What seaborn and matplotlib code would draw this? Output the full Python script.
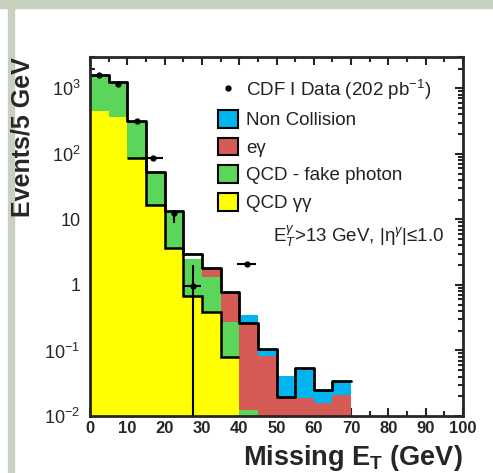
import numpy as np
import pandas as pd
import matplotlib
matplotlib.use('Agg')
import matplotlib.pyplot as plt
import seaborn as sns
from matplotlib.patches import Patch, Rectangle
from matplotlib.lines import Line2D
from matplotlib.ticker import MultipleLocator, LogLocator, NullFormatter

# 5 GeV bins, 0-70 GeV
bin_edges = np.arange(0, 75, 5)
bin_mids = bin_edges[:-1] + 2.5

# stacked backgrounds (events / 5 GeV)
qcd_gg = [458, 363, 86, 16.3, 3.63, 0.68, 0.38, 0.08, 0, 0, 0, 0, 0, 0]
qcd_fake = [1149, 864, 233, 36.2, 9.57, 1.79, 0.96, 0.195, 0.0123, 0, 0, 0, 0, 0]
e_gamma = [0, 0, 0, 0, 0, 0, 0.46, 0.505, 0.248, 0.082, 0.0197, 0.0186, 0.0156, 0.0209]
non_coll = [0, 0, 0, 0, 0, 0, 0, 0, 0.088, 0.023, 0.0211, 0.0349, 0.0093, 0.0137]

# data histogram
data_hist = [1607, 1227, 319, 52.5, 13.2, 2.97, 1.8, 0.79, 0.26, 0.105, 0.0197, 0.0535, 0.0249, 0.0346]

# data points
pts_x = [2.5, 7.5, 12.5, 17, 22.5, 27.5, 42]
pts_y = [1607, 1180, 320, 87, 12.6, 0.97, 2.1]
pts_xerr = [0, 0, 0, 2.7, 0, 2.2, 2.5]
pts_lo = [0, 0, 0, 0, 3.8, 0.965, 0]
pts_hi = [0, 0, 0, 0, 1.5, 1.05, 0]

comp_names = ['Non Collision', 'e\u03b3', 'QCD - fake photon', 'QCD \u03b3\u03b3']
comp_colors = ['#00b4f0', '#d65a55', '#5cd65a', '#ffff00']

sns.set_style('ticks')
plt.rcParams['font.family'] = ['Liberation Sans', 'DejaVu Sans']
plt.rcParams['mathtext.fontset'] = 'custom'
plt.rcParams['mathtext.rm'] = 'Liberation Sans'
plt.rcParams['mathtext.it'] = 'Liberation Sans:italic'
plt.rcParams['mathtext.bf'] = 'Liberation Sans:bold'

df = pd.DataFrame({
    'met': np.tile(bin_mids, 4),
    'w': np.concatenate([non_coll, e_gamma, qcd_fake, qcd_gg]),
    'comp': np.repeat(comp_names, len(bin_mids)),
})

fig = plt.figure(figsize=(4.93, 4.73), dpi=100)
fig.patch.set_facecolor('white')
fig.add_artist(Rectangle((0, 1 - 8/473), 1, 8/473, transform=fig.transFigure, color='#c8d1c0', zorder=0))
fig.add_artist(Rectangle((8/493, 0), 6/493, 1, transform=fig.transFigure, color='#c8d1c0', zorder=0))
ax = fig.add_axes([90/493, 1 - 416/473, 373/493, 359/473])

sns.histplot(data=df, x='met', weights='w', hue='comp', hue_order=comp_names,
             multiple='stack', binwidth=5, binrange=(0, 70), palette=comp_colors,
             linewidth=0, alpha=1, legend=False, ax=ax)
sns.histplot(x=bin_mids, weights=data_hist, binwidth=5, binrange=(0, 70), element='step',
             fill=False, color='black', linewidth=2, ax=ax)
ax.stairs(qcd_gg[2:8], bin_edges[2:9], baseline=None, color='black', lw=1.8)

ax.errorbar(pts_x, pts_y, xerr=pts_xerr, yerr=[pts_lo, pts_hi], fmt='o', ms=3.5,
            color='black', ecolor='black', elinewidth=1.5, capsize=0, zorder=5)

ax.set_yscale('log')
ax.set_xlim(0, 100)
ax.set_ylim(0.01, 3000)
ax.set_yticks([1e-2, 1e-1, 1, 10, 100, 1000])
ax.set_yticklabels(['$10^{-2}$', '$10^{-1}$', '1', '10', '$10^{2}$', '$10^{3}$'], fontsize=13)
ax.yaxis.set_minor_locator(LogLocator(base=10, subs=np.arange(2, 10)))
ax.yaxis.set_minor_formatter(NullFormatter())
ax.xaxis.set_major_locator(MultipleLocator(10))
ax.xaxis.set_minor_locator(MultipleLocator(5))
for lab in ax.get_xticklabels():
    lab.set_fontweight('bold')
    lab.set_fontsize(12)
ax.tick_params(which='both', direction='in', top=True, right=True, width=1.5)
ax.tick_params(which='major', length=6)
ax.tick_params(which='minor', length=3.5)
ax.tick_params(axis='y', which='major', pad=7)
for sp in ax.spines.values():
    sp.set_linewidth(2)

ax.set_xlabel('Missing E$_\\mathbf{T}$ (GeV)', fontsize=19.5, fontweight='bold', loc='right')
ax.xaxis.set_label_coords(1.0, -0.075)
ax.set_ylabel('Events/5 GeV', fontsize=18, fontweight='bold', loc='top')
ax.yaxis.set_label_coords(-0.15, 1.0)

handles = [Line2D([], [], marker='o', ms=3.5, color='black', ls='none')]
handles += [Patch(facecolor=c, edgecolor='black', linewidth=1.5) for c in comp_colors]
labels = ['CDF I Data (202 pb$^{-1}$)'] + comp_names
ax.legend(handles, labels, loc='upper left', bbox_to_anchor=(0.343, 0.943),
          frameon=False, fontsize=13.5, borderpad=0, borderaxespad=0,
          handlelength=1.07, handleheight=1.07, handletextpad=0.45, labelspacing=0.45,
          labelcolor='#222222')
ax.text(0.49, 0.499, 'E$_T^\\gamma$>13 GeV, |\u03b7$^\\gamma$|\u22641.0', transform=ax.transAxes,
        fontsize=13.5, va='center', ha='left', color='#222222')

fig.savefig('out.png', dpi=100)
